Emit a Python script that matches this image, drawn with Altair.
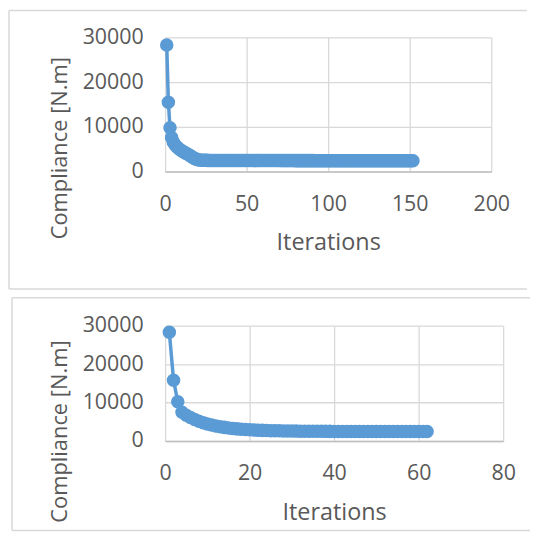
import altair as alt
import pandas as pd

# ---------------- data ----------------
top_compliance = [
    28300, 15500, 9800, 7600, 6600, 6000, 5600, 5250, 4950, 4700,
    4450, 4250, 4050, 3850, 3650, 3400, 3150, 2950, 2780, 2660,
    2590, 2550, 2530, 2515, 2505, 2500, 2497, 2494, 2492, 2490,
    2488, 2486, 2485, 2483, 2482, 2481, 2479, 2478, 2477, 2476,
    2475, 2474, 2473, 2472, 2471, 2470, 2470, 2469, 2468, 2467,
    2466, 2466, 2465, 2464, 2463, 2463, 2462, 2461, 2461, 2460,
    2459, 2459, 2458, 2457, 2457, 2456, 2456, 2455, 2454, 2454,
    2453, 2453, 2452, 2452, 2451, 2450, 2450, 2449, 2449, 2448,
    2448, 2447, 2447, 2446, 2446, 2445, 2445, 2444, 2444, 2443,
    2443, 2442, 2442, 2441, 2441, 2440, 2440, 2440, 2439, 2439,
    2438, 2438, 2437, 2437, 2437, 2436, 2436, 2435, 2435, 2435,
    2434, 2434, 2433, 2433, 2433, 2432, 2432, 2432, 2431, 2431,
    2431, 2430, 2430, 2430, 2429, 2429, 2429, 2428, 2428, 2428,
    2427, 2427, 2427, 2426, 2426, 2426, 2426, 2425, 2425, 2425,
    2424, 2424, 2424, 2424, 2423, 2423, 2423, 2422, 2422, 2422,
    2422, 2421,
]
top_iterations = list(range(1, len(top_compliance) + 1))

bottom_compliance = [
    28300, 15800, 10200, 7500, 6700, 6100, 5600, 5150, 4780, 4450,
    4170, 3930, 3730, 3550, 3400, 3270, 3160, 3070, 2990, 2920,
    2860, 2810, 2770, 2730, 2700, 2670, 2650, 2630, 2610, 2595,
    2580, 2568, 2557, 2547, 2538, 2530, 2523, 2516, 2510, 2505,
    2500, 2495, 2491, 2487, 2484, 2481, 2478, 2475, 2473, 2471,
    2469, 2467, 2465, 2464, 2462, 2461, 2460, 2459, 2458, 2457,
    2456, 2455,
]
bottom_iterations = list(range(1, len(bottom_compliance) + 1))

top_xticks = [0, 50, 100, 150, 200]
bottom_xticks = [0, 20, 40, 60, 80]
y_ticks = [0, 10000, 20000, 30000]

FONT = "Open Sans"
TEXT = "#595959"
BLUE = "#5b9bd5"
GRID = "#d9d9d9"


def panel(xs, ys, xticks, W, H, frame, ytitle_y):
    df = pd.DataFrame({"Iterations": xs, "Compliance": ys})
    base = alt.Chart(df).encode(
        x=alt.X("Iterations:Q",
                scale=alt.Scale(domain=[xticks[0], xticks[-1]], nice=False),
                axis=alt.Axis(values=xticks, title="Iterations", format="d",
                              labelFlush=False, labelPadding=22, titlePadding=16,
                              titleFontSize=23.5, grid=True,
                              domain=True, domainColor="#bfbfbf", domainWidth=1.5)),
        y=alt.Y("Compliance:Q",
                scale=alt.Scale(domain=[0, 30000], nice=False),
                axis=alt.Axis(values=y_ticks, title="Compliance [N.m]", format="d",
                              labelPadding=22, grid=True, domain=False,
                              titleX=-106, titleY=ytitle_y, titleAngle=270,
                              titleBaseline="middle", titleAlign="center")),
    )
    line = base.mark_line(color=BLUE, strokeWidth=3.5)
    pts = base.mark_circle(color=BLUE, size=185, opacity=1)
    fx, fy, fw, fh = frame
    one = pd.DataFrame({"k": [0]})
    rule = dict(color=GRID, strokeWidth=1.5)
    top_edge = alt.Chart(one).mark_rule(**rule).encode(
        x=alt.value(fx), x2=alt.value(fx + fw), y=alt.value(fy))
    bottom_edge = alt.Chart(one).mark_rule(**rule).encode(
        x=alt.value(fx), x2=alt.value(fx + fw), y=alt.value(fy + fh))
    left_edge = alt.Chart(one).mark_rule(**rule).encode(
        x=alt.value(fx), y=alt.value(fy), y2=alt.value(fy + fh))
    return alt.layer(top_edge, bottom_edge, left_edge, line, pts).properties(width=W, height=H)


top = panel(top_iterations, top_compliance, top_xticks, 328, 135,
            (-157, -27, 521, 280), 111)
bottom = panel(bottom_iterations, bottom_compliance, bottom_xticks, 340, 116,
               (-154, -28, 521, 234), 106)

chart = alt.vconcat(top, bottom, spacing=7).properties(padding=0).configure_view(
    stroke=None
).configure_axis(
    labelFont=FONT, titleFont=FONT, labelFontSize=21.5, titleFontSize=22,
    labelColor=TEXT, titleColor=TEXT, titleFontWeight="normal",
    gridColor=GRID, gridWidth=1.3, ticks=False,
)

chart.save("out.html", embed_options={"renderer": "svg", "actions": False})
